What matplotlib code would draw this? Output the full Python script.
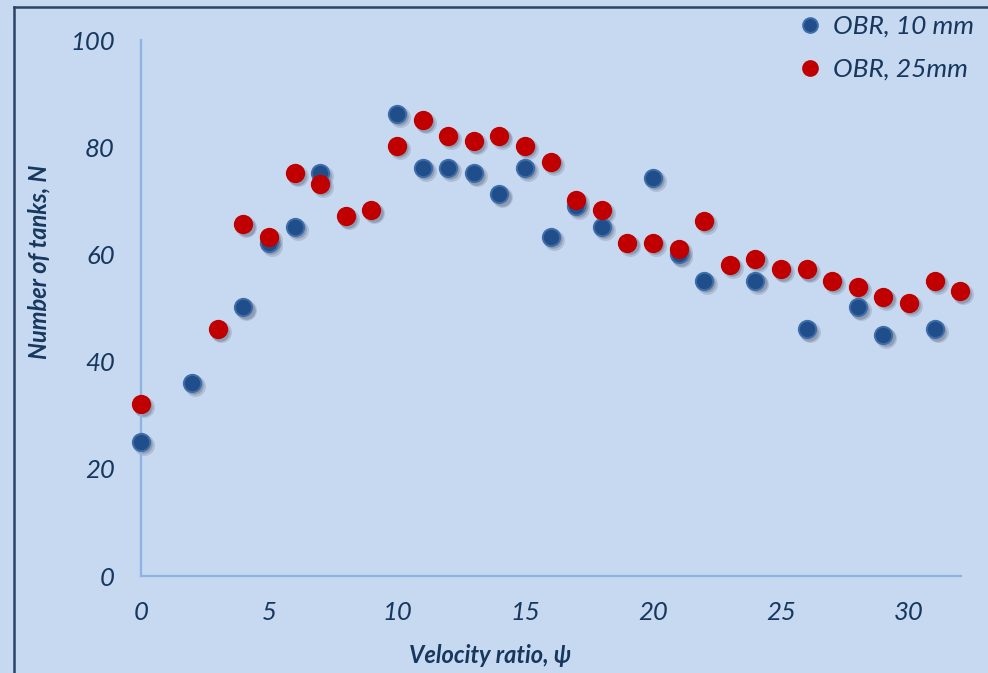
import matplotlib
matplotlib.use("Agg")
import matplotlib.pyplot as plt
import matplotlib.transforms as mtransforms
from matplotlib.lines import Line2D

plt.rcParams['font.family'] = ['Lato', 'DejaVu Sans']

# Velocity ratio vs. number of tanks
psi_10 = [0, 2, 4, 5, 6, 7, 10, 11, 12, 13, 14, 15, 16, 17, 18, 20, 21, 22, 24, 26, 28, 29, 31]
n_10 = [25.0, 36.1, 50.1, 62.2, 65.2, 75.1, 86.2, 76.1, 76.1, 75.1, 71.2, 76.1, 63.2, 69.0, 65.2,
        74.2, 60.0, 55.1, 55.1, 46.0, 50.1, 45.0, 46.0]

psi_25 = [0, 3, 4, 5, 6, 7, 8, 9, 10, 11, 12, 13, 14, 15, 16, 17, 18, 19, 20, 21, 22, 23, 24, 25,
          26, 27, 28, 29, 30, 31, 32]
n_25 = [32.0, 46.0, 65.6, 63.2, 75.1, 73.1, 67.1, 68.2, 80.2, 85.0, 82.1, 81.1, 82.1, 80.2, 77.2,
        70.1, 68.2, 62.2, 62.2, 61.1, 66.2, 58.1, 59.1, 57.2, 57.2, 55.1, 54.0, 52.1, 51.0, 55.1, 53.1]

labels = ["OBR, 10 mm", "OBR, 25mm"]
x_ticks = [0, 5, 10, 15, 20, 25, 30]
y_ticks = [0, 20, 40, 60, 80, 100]

BG = "#C6D9F1"
TXT = "#17375E"
SPINE = "#8DB3E2"
BLUE = "#1F4E8A"
BLUE_EDGE = "#3F6EAA"
RED = "#C00000"

W, H = 988, 673
fig = plt.figure(figsize=(W / 100, H / 100), dpi=100, facecolor=BG)
ax = fig.add_axes([141 / W, 1 - 576 / H, (961 - 141) / W, (576 - 40) / H])
ax.set_facecolor(BG)
ax.set_xlim(0, 32.03)
ax.set_ylim(0, 100)

for s in ["top", "right"]:
    ax.spines[s].set_visible(False)
for s in ["left", "bottom"]:
    ax.spines[s].set_color(SPINE)
    ax.spines[s].set_linewidth(1.6)

ax.set_xticks(x_ticks)
ax.set_yticks(y_ticks)
ax.tick_params(axis="both", length=0, labelsize=18.5, labelcolor=TXT)
ax.tick_params(axis="x", pad=18)
ax.tick_params(axis="y", pad=19)
for lab in ax.get_xticklabels() + ax.get_yticklabels():
    lab.set_fontstyle("italic")

ax.set_xlabel("Velocity ratio, ψ", fontsize=17, fontstyle="italic", fontweight="bold", color=TXT)
ax.set_ylabel("Number of tanks, N", fontsize=17, fontstyle="italic", fontweight="bold", color=TXT)
ax.xaxis.set_label_coords((490 - 141) / 820, (576 - 644) / 536)
ax.yaxis.set_label_coords((50 - 141) / 820, (576 - 262) / 536)

ms = 12.5

def shadowed(x, y, face, edge, label):
    for dx, dy, a, extra in [(3.0, -3.0, 0.18, 2.5), (2.2, -2.2, 0.25, 0.8)]:
        tr = mtransforms.offset_copy(ax.transData, fig=fig, x=dx, y=dy, units="dots")
        ax.plot(x, y, "o", ms=ms + extra, color="#3a3f55", alpha=a, mec="none",
                transform=tr, clip_on=False, zorder=2)
    ax.plot(x, y, "o", ms=ms, mfc=face, mec=edge, mew=1.4, ls="none",
            clip_on=False, zorder=3, label=label)

shadowed(psi_10, n_10, BLUE, BLUE_EDGE, labels[0])
shadowed(psi_25, n_25, RED, RED, labels[1])

leg = fig.legend(loc="upper left", bbox_to_anchor=(798 / W, 1 - 15 / H), frameon=False,
                 handletextpad=0.42, handlelength=0.9, labelspacing=0.75, borderaxespad=0,
                 borderpad=0, prop={"size": 19, "style": "italic"}, markerscale=0.85)
for t in leg.get_texts():
    t.set_color(TXT)

# outer frame (left and top edges)
fig.add_artist(Line2D([14 / W, 14 / W], [0, 1 - 7 / H], transform=fig.transFigure,
                      color="#2B4465", lw=1.8))
fig.add_artist(Line2D([14 / W, 1], [1 - 7 / H, 1 - 7 / H], transform=fig.transFigure,
                      color="#2B4465", lw=1.8))

fig.savefig("out.png", dpi=100, facecolor=BG)
